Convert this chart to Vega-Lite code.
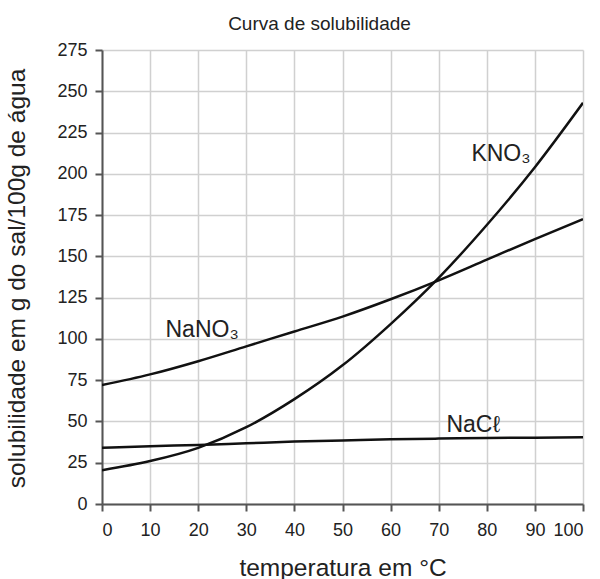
{
  "$schema": "https://vega.github.io/schema/vega-lite/v6.json",
  "width": 481,
  "height": 454,
  "autosize": {"type": "none"},
  "padding": {"left": 102, "top": 50, "right": 17, "bottom": 75},
  "background": "white",
  "title": {
    "text": "Curva de solubilidade",
    "font": "Liberation Sans",
    "fontSize": 19,
    "fontWeight": "normal",
    "color": "#222222",
    "anchor": "middle",
    "frame": "group",
    "dx": -23,
    "dy": 22,
    "baseline": "alphabetic",
    "offset": 14
  },
  "config": {
    "view": {"stroke": null},
    "axis": {
      "domainColor": "#555555",
      "domainWidth": 2,
      "tickColor": "#555555",
      "tickWidth": 2,
      "tickSize": 7,
      "gridColor": "#d0d0d0",
      "gridWidth": 1.5,
      "labelFont": "Liberation Sans",
      "labelFontSize": 18,
      "labelColor": "#222222",
      "titleFont": "Liberation Sans",
      "titleFontSize": 24.5,
      "titleFontWeight": "normal",
      "titleColor": "#222222"
    }
  },
  "datasets": {
    "curves": [
      {"sal": "KNO3", "t": 0, "s": 20.5},
      {"sal": "KNO3", "t": 10, "s": 26},
      {"sal": "KNO3", "t": 20, "s": 34},
      {"sal": "KNO3", "t": 30, "s": 46.5},
      {"sal": "KNO3", "t": 40, "s": 63.5},
      {"sal": "KNO3", "t": 50, "s": 84},
      {"sal": "KNO3", "t": 60, "s": 109},
      {"sal": "KNO3", "t": 70, "s": 137},
      {"sal": "KNO3", "t": 80, "s": 169},
      {"sal": "KNO3", "t": 90, "s": 204},
      {"sal": "KNO3", "t": 100, "s": 243},
      {"sal": "NaNO3", "t": 0, "s": 72},
      {"sal": "NaNO3", "t": 10, "s": 78.5},
      {"sal": "NaNO3", "t": 20, "s": 86.5},
      {"sal": "NaNO3", "t": 30, "s": 95.5},
      {"sal": "NaNO3", "t": 40, "s": 104.5},
      {"sal": "NaNO3", "t": 50, "s": 113.5},
      {"sal": "NaNO3", "t": 60, "s": 124},
      {"sal": "NaNO3", "t": 70, "s": 135.5},
      {"sal": "NaNO3", "t": 80, "s": 148},
      {"sal": "NaNO3", "t": 90, "s": 160.5},
      {"sal": "NaNO3", "t": 100, "s": 172.5},
      {"sal": "NaCl", "t": 0, "s": 34},
      {"sal": "NaCl", "t": 10, "s": 35},
      {"sal": "NaCl", "t": 20, "s": 35.8},
      {"sal": "NaCl", "t": 30, "s": 36.8},
      {"sal": "NaCl", "t": 40, "s": 37.8},
      {"sal": "NaCl", "t": 50, "s": 38.5},
      {"sal": "NaCl", "t": 60, "s": 39.2},
      {"sal": "NaCl", "t": 70, "s": 39.6},
      {"sal": "NaCl", "t": 80, "s": 40},
      {"sal": "NaCl", "t": 90, "s": 40.2},
      {"sal": "NaCl", "t": 100, "s": 40.4}
    ],
    "labels": [
      {"label": "KNO₃", "t": 76.8, "s": 208},
      {"label": "NaNO₃", "t": 13.2, "s": 101.2},
      {"label": "NaCℓ", "t": 71.6, "s": 43.6}
    ]
  },
  "layer": [
    {
      "data": {"name": "curves"},
      "mark": {"type": "line", "interpolate": "monotone", "color": "#111111", "strokeWidth": 2.5, "clip": true},
      "encoding": {
        "x": {
          "field": "t",
          "type": "quantitative",
          "scale": {"domain": [0, 100], "nice": false},
          "axis": {
            "values": [0, 10, 20, 30, 40, 50, 60, 70, 80, 90, 100],
            "title": "temperatura em °C",
            "titleBaseline": "alphabetic",
            "titleY": 71,
            "labelBaseline": "alphabetic",
            "labelPadding": 24
          }
        },
        "y": {
          "field": "s",
          "type": "quantitative",
          "scale": {"domain": [0, 275], "nice": false},
          "axis": {
            "values": [0, 25, 50, 75, 100, 125, 150, 175, 200, 225, 250, 275],
            "title": "solubilidade em g do sal/100g de água",
            "titleAngle": -90,
            "titleBaseline": "middle",
            "titleX": -85,
            "titleY": 228,
            "labelPadding": 8
          }
        },
        "detail": {"field": "sal"}
      }
    },
    {
      "data": {"name": "labels"},
      "mark": {"type": "text", "align": "left", "baseline": "alphabetic", "font": "Liberation Sans", "fontSize": 23, "color": "#222222"},
      "encoding": {
        "x": {"field": "t", "type": "quantitative"},
        "y": {"field": "s", "type": "quantitative"},
        "text": {"field": "label"}
      }
    }
  ]
}
